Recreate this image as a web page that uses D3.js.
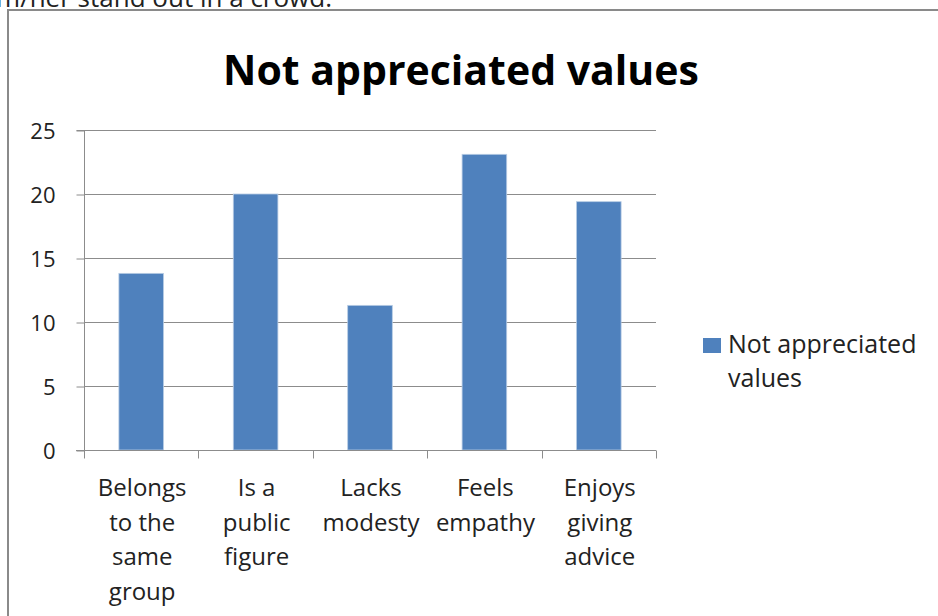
<!DOCTYPE html>
<html>
<head>
<meta charset="utf-8">
<script src="https://cdn.jsdelivr.net/npm/d3@7/dist/d3.min.js"></script>
<style>
  html, body { margin: 0; padding: 0; background: #fff; overflow: hidden; }
  svg { display: block; }
</style>
</head>
<body>
<svg id="chart" width="938" height="616"></svg>
<script>
const categories = [
  ["Belongs", "to the", "same", "group"],
  ["Is a", "public", "figure"],
  ["Lacks", "modesty"],
  ["Feels", "empathy"],
  ["Enjoys", "giving", "advice"]
];
const values = [13.8, 20.0, 11.3, 23.1, 19.4];
const yTicks = [0, 5, 10, 15, 20, 25];
const seriesName = ["Not appreciated", "values"];
const titleText = "Not appreciated values";
const headerText = "him/her stand out in a crowd.";

(function () {
const svg = d3.select("#chart");
const font = "'Open Sans', sans-serif";
const gridColor = "#8c8c8c";
const barColor = "#4f81bd";

// page text cut off at top
svg.append("text").attr("x", 332).attr("y", 7).attr("text-anchor", "end")
  .attr("font-family", font).attr("font-size", 26).attr("fill", "#222")
  .text(headerText);

// outer chart frame
svg.append("rect").attr("x", 8).attr("y", 10).attr("width", 960).attr("height", 640)
  .attr("fill", "#fff").attr("stroke", "#8a8a8a").attr("stroke-width", 2);

const pL = 84, pR = 656, pT = 130, pB = 450;
const ids = categories.map((c, i) => i);
const x = d3.scaleBand().domain(ids).range([pL, pR]).paddingInner(0.61).paddingOuter(0.305);
const xb = d3.scaleBand().domain(ids).range([pL, pR]).padding(0);
const y = d3.scaleLinear().domain([0, 25]).range([pB, pT]);

// gridlines
svg.append("g").selectAll("line").data(yTicks.filter(t => t > 0)).join("line")
  .attr("x1", pL).attr("x2", pR)
  .attr("y1", d => y(d) + 0.5).attr("y2", d => y(d) + 0.5)
  .attr("stroke", gridColor).attr("stroke-width", 1);

// bars
svg.append("g").selectAll("rect").data(values).join("rect")
  .attr("x", (d, i) => x(i)).attr("width", x.bandwidth())
  .attr("y", d => y(d)).attr("height", d => y(0) - y(d))
  .attr("fill", barColor).attr("stroke", "#b8cce4").attr("stroke-width", 0.8);

// y axis
const yAxis = d3.axisLeft(y).tickValues(yTicks).tickSize(8).tickPadding(21);
const gy = svg.append("g").attr("transform", `translate(${pL + 0.5},0.5)`).call(yAxis);
gy.select(".domain").attr("stroke", gridColor).attr("d", `M-8,${pT}H0V${pB}`);
gy.selectAll(".tick line").attr("stroke", gridColor);
gy.selectAll(".tick text").attr("font-family", font).attr("font-size", 22).attr("fill", "#222")
  .attr("dy", "0.36em");

// x axis
const gx = svg.append("g").attr("transform", `translate(0,${pB + 0.5})`);
gx.append("line").attr("x1", pL - 8).attr("x2", pR).attr("y1", 0).attr("y2", 0).attr("stroke", gridColor);
const bounds = ids.map(i => xb(i)).concat([pR]);
gx.selectAll("line.tk").data(bounds).join("line").attr("class", "tk")
  .attr("x1", d => Math.round(d) + 0.5).attr("x2", d => Math.round(d) + 0.5)
  .attr("y1", 0).attr("y2", 8).attr("stroke", gridColor);

// category labels
const lab = svg.append("g");
categories.forEach((lines, i) => {
  const cx = xb(i) + xb.bandwidth() / 2 + 1;
  const t = lab.append("text").attr("x", cx).attr("y", 496)
    .attr("text-anchor", "middle").attr("font-family", font).attr("font-size", 24).attr("fill", "#222");
  lines.forEach((ln, j) => t.append("tspan").attr("x", cx).attr("dy", j === 0 ? 0 : 34.5).text(ln));
});

// title
svg.append("text").attr("x", 461).attr("y", 85).attr("text-anchor", "middle")
  .attr("font-family", font).attr("font-weight", "bold").attr("font-size", 41).attr("fill", "#000")
  .text(titleText);

// legend
svg.append("rect").attr("x", 703).attr("y", 338).attr("width", 18).attr("height", 15).attr("fill", barColor);
const lt = svg.append("text").attr("x", 728).attr("y", 353)
  .attr("font-family", font).attr("font-size", 25).attr("fill", "#222");
seriesName.forEach((s, j) => lt.append("tspan").attr("x", 728).attr("dy", j === 0 ? 0 : 34).text(s));
})();
</script>
</body>
</html>
